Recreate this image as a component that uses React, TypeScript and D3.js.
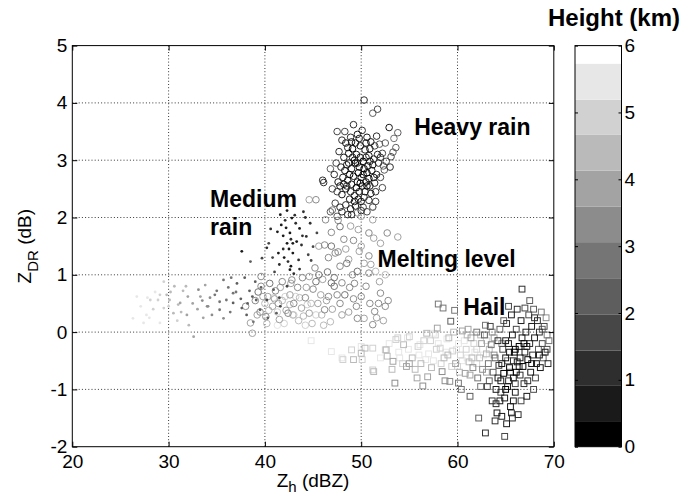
import { useEffect, useRef } from "react";
import { select, scaleLinear, scaleThreshold, axisBottom, axisLeft, axisTop, axisRight } from "d3";

// [Zh (dBZ), ZDR (dB), height (km)]
type Obs = [number, number, number];

const heavyRain: Obs[] = [
  [50.3, 4.05, 1.2], [51.7, 3.89, 1.8], [51.2, 3.82, 2.2], [49.2, 3.62, 1.0], [52.9, 3.57, 0.9], [53.8, 3.48, 2.4],
  [53.4, 3.38, 2.6], [53.6, 3.22, 2.2], [53.3, 3.14, 2.0], [53.1, 3.06, 1.6], [53.0, 2.88, 1.3], [52.4, 2.83, 2.3],
  [48.0, 3.35, 1.4], [48.4, 3.3, 0.8], [48.9, 3.4, 1.1], [49.6, 3.45, 0.6], [50.1, 3.52, 1.3], [50.6, 3.4, 0.4],
  [51.0, 3.32, 0.9], [51.4, 3.25, 1.7], [51.9, 3.28, 2.1], [52.2, 3.12, 1.5], [47.7, 3.15, 1.2], [48.2, 3.05, 0.6],
  [48.7, 3.12, 0.9], [49.1, 3.2, 0.3], [49.5, 3.1, 0.7], [49.9, 3.25, 0.5], [50.4, 3.18, 0.8], [50.8, 3.08, 0.4],
  [51.3, 3.02, 1.0], [51.8, 2.95, 1.4], [52.3, 2.9, 2.0], [47.4, 2.95, 1.8], [47.9, 2.88, 1.0], [48.5, 2.92, 0.7],
  [49.0, 2.85, 0.5], [49.4, 2.95, 0.2], [49.8, 2.88, 0.6], [50.2, 2.98, 0.3], [50.7, 2.9, 0.8], [51.1, 2.82, 0.5],
  [51.6, 2.75, 1.2], [52.0, 2.7, 1.9], [47.2, 2.75, 1.3], [47.6, 2.62, 0.9], [48.1, 2.7, 0.5], [48.6, 2.65, 0.9],
  [49.2, 2.72, 0.4], [49.6, 2.62, 0.7], [50.0, 2.7, 0.4], [50.5, 2.62, 0.6], [50.9, 2.55, 0.9], [51.4, 2.6, 1.1],
  [52.2, 2.52, 1.6], [46.0, 2.65, 1.4], [46.1, 2.61, 1.2], [47.5, 2.45, 1.5], [48.0, 2.4, 0.8], [48.4, 2.5, 0.6],
  [48.9, 2.45, 1.0], [49.3, 2.38, 0.5], [49.8, 2.45, 0.8], [50.3, 2.35, 1.0], [50.8, 2.3, 1.3], [51.5, 2.28, 1.7],
  [47.3, 2.25, 1.6], [47.8, 2.18, 1.2], [48.4, 2.22, 1.0], [48.9, 2.15, 0.7], [49.4, 2.2, 0.9], [50.0, 2.12, 1.2],
  [50.6, 2.1, 1.8], [51.2, 2.18, 2.1], [46.8, 2.1, 2.4], [47.5, 2.02, 2.0], [48.6, 2.05, 1.4], [49.7, 2.32, 0.6],
  [50.6, 2.78, 0.3], [49.0, 2.58, 0.4], [48.3, 2.82, 0.9], [49.3, 3.0, 0.4], [50.1, 2.55, 0.5], [50.9, 2.98, 0.7],
  [49.7, 2.78, 0.2], [48.8, 2.32, 0.8], [50.4, 2.45, 0.9], [51.7, 3.1, 1.2], [49.0, 3.32, 0.9], [50.5, 3.3, 0.5],
  [48.7, 2.95, 0.4], [49.1, 3.05, 0.8], [49.5, 2.52, 0.3], [49.9, 3.05, 0.9], [50.2, 2.75, 0.6], [50.5, 3.05, 1.0],
  [50.8, 2.68, 0.3], [51.2, 2.92, 0.6], [48.5, 2.55, 1.2], [48.2, 2.58, 0.9], [49.3, 2.28, 0.6], [50.0, 2.28, 0.5],
  [50.6, 2.55, 0.2], [51.0, 2.42, 0.8], [47.8, 2.55, 0.7], [48.8, 2.75, 0.3], [49.6, 2.95, 1.1], [50.3, 2.85, 0.2],
  [50.9, 3.2, 0.9], [49.4, 3.3, 0.7], [48.6, 3.22, 1.0], [51.5, 2.45, 1.4], [52.6, 2.98, 1.8], [52.0, 3.05, 1.0],
  [47.0, 2.5, 1.9], [46.8, 2.85, 2.2], [47.5, 3.5, 1.9], [48.3, 3.5, 1.6], [49.8, 3.38, 0.8], [51.6, 3.42, 1.4],
  [52.5, 3.3, 2.5], [50.2, 2.18, 1.5], [49.0, 2.05, 1.0], [48.0, 2.1, 1.4], [49.9, 2.6, 0.3], [51.3, 2.7, 0.5],
];

const meltingLevel: Obs[] = [
  [44.6, 2.31, 3.8], [45.3, 2.31, 3.5], [46.3, 1.96, 3.2], [47.0, 2.13, 2.8], [47.8, 1.84, 3.0], [46.9, 1.74, 3.3],
  [45.6, 1.5, 3.6], [46.2, 1.52, 3.1], [46.9, 1.5, 2.9], [47.3, 1.38, 3.4], [47.8, 1.15, 3.2], [48.5, 1.2, 2.9],
  [48.7, 1.27, 3.6], [49.1, 1.0, 3.3], [49.6, 1.06, 3.0], [49.8, 1.41, 3.7], [50.0, 1.5, 3.9], [50.8, 1.73, 3.5],
  [51.3, 1.64, 3.8], [52.7, 1.73, 3.4], [53.8, 1.66, 3.6], [52.0, 1.55, 4.0], [50.8, 1.33, 3.2], [51.0, 1.18, 3.9],
  [50.8, 1.03, 3.3], [51.5, 1.06, 4.2], [50.0, 2.02, 3.8], [49.6, 2.08, 3.4], [49.7, 1.79, 4.1], [51.2, 1.96, 4.0],
  [51.2, 2.19, 3.7], [48.2, 1.62, 3.5], [47.6, 1.95, 3.1], [46.5, 1.05, 3.0], [46.0, 0.92, 3.6], [45.2, 1.12, 3.3],
  [47.2, 0.95, 2.8], [48.0, 0.86, 3.2], [46.9, 0.86, 3.0], [44.6, 0.97, 3.8], [42.8, 0.91, 3.4], [39.6, 0.97, 3.3],
  [39.6, 0.8, 3.1], [38.0, 0.45, 3.2], [38.5, 0.16, 3.6], [38.7, -0.02, 4.0], [39.0, 0.55, 3.3], [39.5, 0.35, 3.5],
  [40.1, 0.27, 3.2], [40.3, 0.62, 3.6], [40.8, 0.45, 4.0], [41.1, 0.72, 3.3], [41.5, 0.22, 3.7], [41.8, 0.55, 4.3],
  [42.2, 0.38, 3.8], [42.4, 0.33, 3.2], [42.6, 0.65, 4.1], [43.0, 0.5, 3.5], [43.4, 0.78, 3.3], [43.8, 0.42, 3.9],
  [44.2, 0.6, 3.4], [44.6, 0.33, 3.7], [45.0, 0.75, 3.2], [45.5, 0.5, 3.8], [45.9, 0.3, 4.2], [46.2, 0.39, 3.4],
  [46.6, 0.62, 3.1], [47.2, 0.8, 3.0], [47.8, 0.5, 3.3], [48.3, 0.65, 3.0], [48.7, 0.35, 3.7], [49.2, 0.58, 3.2],
  [49.6, 0.24, 3.5], [50.0, 0.62, 3.1], [50.3, 0.24, 3.6], [50.9, 0.5, 3.2], [51.2, 0.13, 3.4], [51.4, 0.36, 3.3],
  [51.8, 0.5, 3.1], [52.0, 0.68, 3.4], [52.5, 0.45, 3.5], [40.5, 0.85, 3.0], [41.8, 0.88, 3.2], [43.5, 0.2, 4.4],
  [44.9, 0.15, 4.2], [46.8, 0.18, 4.4], [42.0, 0.15, 4.8], [40.0, 0.5, 4.6], [41.3, 0.35, 4.9], [43.2, 0.62, 5.0],
  [44.0, 0.28, 4.6], [39.3, 0.7, 2.9], [45.3, 0.88, 3.0], [41.0, 0.58, 3.9], [42.9, 0.3, 4.5], [44.4, 0.48, 4.8],
  [39.8, 0.62, 3.8], [40.4, 0.38, 4.3], [40.9, 0.6, 4.7], [41.4, 0.5, 3.8], [41.6, 0.78, 3.6], [42.1, 0.62, 5.1],
  [42.6, 0.48, 4.2], [43.0, 0.3, 4.9], [43.6, 0.6, 4.4], [44.3, 0.78, 3.7], [44.8, 0.5, 4.3], [45.3, 0.3, 4.7],
  [45.8, 0.65, 4.0], [46.4, 0.55, 3.6], [47.0, 0.4, 4.0], [47.5, 0.65, 3.3], [48.0, 0.3, 3.9], [48.8, 0.78, 3.1],
  [49.5, 0.45, 3.4], [50.5, 0.8, 3.3], [51.6, 0.25, 3.8], [52.8, 0.55, 3.5], [52.3, 0.2, 4.1], [40.2, 0.15, 4.4],
  [39.2, 0.3, 3.8], [43.9, 0.95, 3.1], [45.6, 1.0, 2.9], [47.6, 1.4, 3.3], [48.4, 1.45, 3.8], [49.2, 1.6, 3.1],
  [48.9, 1.85, 3.6], [46.6, 1.3, 3.4], [50.3, 1.2, 4.0], [49.3, 0.85, 3.5], [52.5, 1.0, 4.2], [51.9, 0.88, 3.8],
  [41.3, 0.12, 5.2], [42.7, 0.85, 3.7], [44.2, 0.12, 5.0], [46.1, 0.12, 4.6],
];

const mediumRain: Obs[] = [
  [41.6, 2.05, 0.9], [44.0, 2.1, 1.2], [41.7, 1.87, 0.7], [42.6, 1.73, 0.5], [43.6, 1.81, 0.8], [44.7, 1.9, 1.3],
  [42.3, 1.55, 0.6], [43.3, 1.58, 0.9], [44.3, 1.67, 1.1], [45.0, 1.49, 1.5], [37.6, 1.41, 0.8], [40.2, 1.47, 1.2],
  [41.4, 1.38, 0.7], [42.4, 1.23, 1.0], [43.5, 1.26, 1.4], [42.6, 1.09, 0.8], [40.4, 1.55, 1.6], [39.7, 1.29, 1.8],
  [38.5, 1.23, 2.0], [42.9, 1.38, 0.6], [42.8, 1.99, 0.8], [45.4, 1.73, 1.7], [42.1, 1.95, 1.0], [43.1, 2.04, 1.1],
  [42.5, 1.45, 0.4], [43.8, 1.52, 1.0], [41.9, 1.68, 0.8], [42.7, 1.62, 1.2], [44.5, 1.35, 1.5], [41.0, 1.05, 1.7],
  [35.7, 0.91, 2.6], [37.1, 0.85, 2.4], [34.8, 0.65, 3.0], [36.0, 0.56, 2.7], [34.1, 0.45, 3.2], [35.3, 0.39, 2.9],
  [36.7, 0.51, 2.5], [38.1, 0.3, 2.2], [39.1, 0.56, 2.4], [33.1, 0.74, 3.4], [32.0, 0.62, 3.8], [31.2, 0.51, 4.0],
  [30.1, 0.56, 4.4], [29.1, 0.65, 4.7], [28.1, 0.56, 5.0], [26.7, 0.62, 5.4], [26.3, 0.24, 5.6], [27.4, 0.16, 5.3],
  [29.5, 0.88, 4.9], [30.5, 0.33, 4.6], [32.6, -0.08, 3.6], [40.2, 0.56, 1.8], [40.9, 0.74, 2.0], [41.6, 0.45, 1.6],
  [42.3, 0.8, 1.9], [39.5, 0.39, 2.3], [41.2, 0.33, 2.1], [27.7, 0.3, 5.5], [29.1, 0.16, 5.2], [28.9, 0.56, 4.8],
  [29.8, 0.65, 4.5], [29.5, 0.42, 4.9], [31.0, 0.48, 4.3], [31.9, 0.3, 4.1], [32.1, 0.12, 4.4], [33.3, 0.62, 3.7],
  [34.0, 0.45, 3.3], [34.5, 0.3, 3.5], [35.7, 0.24, 3.1], [35.3, 0.53, 2.8], [36.7, 0.68, 2.6], [37.6, 0.42, 2.3],
  [38.4, 0.72, 2.5], [37.9, 0.95, 2.2], [36.2, 0.78, 2.9], [33.8, 0.82, 3.6], [31.5, 0.72, 4.2], [30.6, 0.8, 4.5],
  [28.4, 0.4, 5.1], [27.1, 0.45, 5.7], [30.9, 0.2, 4.7], [33.6, 0.25, 3.9], [39.0, 0.88, 2.1], [38.8, 0.18, 2.7],
  [41.3, 1.75, 0.9], [41.9, 1.45, 1.1], [42.2, 1.82, 0.5], [42.9, 1.55, 0.7], [43.2, 1.9, 1.0], [43.9, 1.68, 1.3],
  [44.2, 2.0, 1.1], [42.0, 1.3, 0.8], [42.7, 1.15, 0.9], [43.0, 1.02, 1.2], [41.5, 1.18, 1.4], [40.8, 1.3, 1.5],
  [43.6, 1.1, 1.4], [44.8, 1.25, 1.6], [42.3, 2.12, 0.9], [40.6, 1.8, 1.3], [37.0, 0.7, 2.6], [37.5, 0.58, 2.4],
  [38.2, 0.5, 2.3], [36.4, 0.35, 2.8], [35.0, 0.72, 3.0], [34.3, 0.6, 3.3], [33.0, 0.4, 3.6], [32.5, 0.5, 3.9],
  [31.3, 0.35, 4.3], [30.2, 0.7, 4.6], [28.6, 0.7, 5.2], [27.8, 0.6, 5.5], [26.9, 0.8, 5.8], [28.0, 0.25, 5.6],
  [30.0, 0.45, 5.0], [31.8, 0.8, 4.4], [33.5, 0.55, 3.5], [36.5, 0.95, 2.7], [38.7, 0.62, 2.2], [39.6, 0.78, 2.0],
  [41.5, 0.6, 1.7], [40.3, 0.25, 2.3],
];

const hail: Obs[] = [
  [44.8, -0.15, 5.6], [46.9, -0.34, 5.5], [48.0, -0.45, 5.2], [48.2, -0.8, 5.8], [48.1, -0.48, 5.0], [49.0, -0.31, 4.9],
  [49.2, -0.48, 4.6], [50.0, -0.25, 5.3], [50.0, -0.37, 4.4], [50.1, -0.48, 4.8], [50.4, -0.28, 4.5], [51.2, -0.66, 5.1],
  [51.2, -0.28, 4.7], [51.3, -0.69, 4.3], [52.5, -0.31, 5.0], [52.6, -0.31, 4.2], [52.7, -0.42, 4.6], [53.5, -0.89, 3.4],
  [53.6, -0.13, 4.8], [53.3, -0.51, 4.1], [53.9, -0.35, 5.2], [54.4, -0.22, 4.5], [54.7, -0.6, 3.9], [54.8, -0.1, 5.4],
  [55.0, -0.08, 4.9], [55.3, -0.45, 4.3], [55.8, -0.8, 4.0], [55.9, -0.25, 5.0], [56.2, -0.55, 4.6], [56.4, -0.94, 3.2],
  [56.5, -0.15, 4.7], [56.8, -0.02, 4.4], [57.0, -0.38, 5.3], [57.3, -0.62, 4.2], [57.7, -0.05, 5.1], [57.9, 0.07, 3.6],
  [58.0, 0.49, 2.6], [58.5, 0.42, 2.9], [58.2, -0.28, 4.8], [58.4, -0.69, 3.1], [58.6, -0.45, 4.5], [58.9, -0.12, 5.5],
  [59.2, -0.86, 3.4], [59.3, 0.19, 2.2], [59.5, -0.33, 4.9], [59.7, 0.38, 3.0], [59.8, -0.55, 4.0], [60.1, -0.89, 2.8],
  [60.1, -0.2, 5.2], [60.3, -0.4, 4.7], [60.5, 0.02, 3.9], [60.8, -0.72, 3.6], [60.9, -0.3, 5.0], [61.2, -0.52, 4.4],
  [61.3, -1.12, 2.4], [61.4, -0.1, 4.1], [61.6, -0.62, 3.3], [61.8, -0.35, 5.3], [62.0, 0.0, 3.0], [62.1, -0.8, 2.9],
  [62.2, -1.5, 2.0], [62.3, -0.45, 4.6], [62.5, -0.2, 3.8], [62.6, -0.65, 3.5], [62.9, -1.76, 1.2], [62.8, -0.05, 2.5],
  [63.0, -0.38, 4.2], [63.1, -0.95, 1.8], [63.2, -0.55, 3.0], [63.4, 0.1, 1.6], [63.5, -0.22, 2.7], [63.6, -1.2, 1.3],
  [63.7, -0.7, 2.2], [63.8, -0.4, 3.5], [60.0, -0.6, 4.8], [61.0, -0.05, 4.3], [62.0, -0.3, 5.0], [63.0, -0.15, 4.9],
  [63.9, -0.45, 2.5], [64.6, -0.2, 3.2], [65.2, -0.5, 2.6], [61.5, -0.45, 4.6], [60.5, -0.5, 5.3], [59.0, -0.4, 4.3],
  [57.8, -0.3, 5.0], [56.0, -0.4, 5.5], [55.0, -0.55, 4.1], [54.0, -0.45, 5.7], [62.4, -0.95, 2.7], [63.3, -0.85, 2.0],
  [64.0, -1.25, 1.0], [63.8, -0.1, 3.9], [65.5, -0.7, 2.1], [66.0, -0.9, 1.8], [64.5, -1.05, 1.6],
  [52.0, -0.45, 5.3], [52.9, -0.2, 5.6], [53.2, -0.65, 4.4], [53.8, -0.1, 5.1], [54.3, -0.55, 4.8], [54.9, -0.3, 5.5],
  [55.4, -0.15, 5.8], [55.6, -0.65, 4.5], [56.1, -0.22, 5.2], [56.7, -0.48, 5.6], [57.2, -0.15, 4.9], [57.5, -0.5, 5.4],
  [58.0, -0.2, 5.7], [58.3, -0.55, 4.7], [58.8, -0.35, 5.2], [59.1, -0.1, 4.6], [59.4, -0.6, 5.0], [59.9, -0.3, 5.6],
  [60.2, -0.7, 4.2], [60.7, -0.15, 5.4], [61.0, -0.45, 5.7], [61.3, -0.75, 3.8], [61.7, -0.2, 4.8], [62.0, -0.55, 5.1],
  [62.4, -0.05, 4.3], [62.7, -0.4, 5.4], [63.0, -0.7, 3.6], [63.3, -0.3, 4.5], [63.6, 0.0, 3.2], [57.5, -0.02, 5.3],
  [59.6, 0.0, 4.4], [61.1, 0.05, 3.7], [62.9, 0.12, 2.8], [58.7, -0.85, 3.5], [60.4, -1.0, 2.9], [56.9, -0.78, 3.9],
  [64.0, -1.0, 0.8], [64.1, -1.41, 0.6], [64.2, -0.15, 1.4], [64.3, -0.58, 1.0], [64.4, 0.05, 2.0], [64.5, -0.85, 0.5],
  [64.6, -1.47, 0.9], [64.7, -0.3, 1.7], [64.8, -0.72, 0.3], [64.9, -1.82, 1.5], [64.9, -1.15, 0.7], [65.0, -0.45, 0.4],
  [65.1, 0.15, 1.2], [65.2, -0.95, 0.9], [65.3, -0.2, 0.6], [65.4, -0.62, 0.2], [65.5, -1.3, 0.8], [65.6, -1.41, 1.1],
  [65.6, 0.3, 0.5], [65.7, -0.05, 0.9], [65.8, -0.8, 0.4], [65.9, -0.35, 0.1], [66.0, -1.05, 0.6], [66.1, 0.05, 1.6],
  [66.2, -0.52, 0.7], [66.3, -1.44, 1.3], [66.4, -0.25, 0.3], [66.5, -0.75, 1.0], [66.6, 0.2, 0.8], [66.7, 0.75, 1.1],
  [66.7, -0.1, 0.5], [66.8, -0.6, 0.2], [66.9, -0.9, 1.4], [67.0, 0.42, 1.9], [67.0, -0.35, 0.6], [67.1, 0.0, 0.9],
  [67.2, -1.12, 0.7], [67.3, -0.48, 0.3], [67.4, 0.3, 1.5], [67.5, -0.2, 1.1], [67.6, -0.7, 0.4], [67.7, 0.1, 0.7],
  [67.8, -0.4, 1.3], [67.9, 0.4, 2.1], [68.0, -0.1, 0.5], [68.1, -0.8, 1.7], [68.2, -0.55, 0.8], [68.3, 0.2, 1.0],
  [68.4, -0.3, 2.4], [68.5, 0.0, 1.2], [68.6, -0.62, 0.6], [68.7, 0.35, 2.8], [68.8, -0.2, 1.5], [68.9, -0.45, 2.2],
  [69.0, 0.1, 1.8], [69.1, -0.35, 0.9], [69.2, 0.25, 3.2], [69.3, -0.05, 2.6], [69.4, -0.55, 1.4], [69.5, -0.15, 3.0],
  [65.0, -0.15, 0.7], [65.8, -0.5, 1.2], [66.4, -0.6, 0.4], [67.2, -0.25, 0.8], [66.0, -0.3, 0.3], [65.3, -0.85, 1.1],
  [64.2, -0.8, 0.9], [64.6, -0.55, 0.5], [65.0, -1.0, 0.2], [65.4, -0.35, 0.4], [65.8, -1.2, 0.7], [66.1, -0.7, 0.2],
  [66.5, -0.45, 0.6], [66.9, -0.2, 0.3], [67.3, -0.85, 1.0], [67.7, -0.55, 0.6], [68.0, 0.25, 1.3], [68.5, -0.4, 0.9],
  [68.8, 0.05, 2.0], [69.3, -0.3, 1.6], [67.5, 0.55, 2.3], [66.2, 0.4, 1.4], [65.3, 0.45, 1.7], [64.8, 0.2, 2.4],
  [63.9, -1.55, 1.1], [65.1, -1.6, 0.9], [66.6, -1.2, 1.6], [64.4, -1.2, 0.6], [65.7, -1.5, 1.2], [67.9, -1.0, 1.9],
];

const xTicks = [20, 30, 40, 50, 60, 70];
const yTicks = [-2, -1, 0, 1, 2, 3, 4, 5];
const heightTicks = [0, 1, 2, 3, 4, 5, 6];
// colour band edges of the height colorbar (km)
const heightBreaks = [0.37, 0.91, 1.44, 1.98, 2.52, 3.06, 3.59, 4.13, 4.67, 5.19, 5.73];
const grays = ["#000000", "#1a1a1a", "#2e2e2e", "#474747", "#5e5e5e", "#757575",
  "#8c8c8c", "#a3a3a3", "#bababa", "#d1d1d1", "#e7e7e7", "#ffffff"];

const FONT = "Arial, 'Liberation Sans', Helvetica, sans-serif";

const App = () => {
  const svgRef = useRef<SVGSVGElement>(null);

  useEffect(() => {
    const svg = select(svgRef.current);
    svg.selectAll("*").remove();

    const left = 72.3, right = 553.8, top = 45.6, bottom = 446.7;
    const xScale = scaleLinear().domain([20, 70]).range([left, right]);
    const yScale = scaleLinear().domain([-2, 5]).range([bottom, top]);
    const color = scaleThreshold<number, string>().domain(heightBreaks).range(grays);
    const fmt = (d: any) => String(d);

    // grid
    const grid = svg.append("g").attr("stroke", "#222").attr("stroke-dasharray", "1,2.2").attr("stroke-width", 0.9);
    grid.selectAll(".gx").data(xTicks.slice(1, -1)).join("line")
      .attr("x1", d => xScale(d)).attr("x2", d => xScale(d)).attr("y1", top).attr("y2", bottom);
    grid.selectAll(".gy").data(yTicks.slice(1, -1)).join("line")
      .attr("y1", d => yScale(d)).attr("y2", d => yScale(d)).attr("x1", left).attr("x2", right);

    const byHeight = (a: Obs, b: Obs) => b[2] - a[2];

    // melting level (circles)
    svg.append("g").selectAll("circle").data([...meltingLevel].sort(byHeight)).join("circle")
      .attr("cx", d => xScale(d[0])).attr("cy", d => yScale(d[1])).attr("r", 3.3)
      .attr("fill", "none").attr("stroke", d => color(d[2])).attr("stroke-width", 1);

    // medium rain (dots)
    svg.append("g").selectAll("circle").data([...mediumRain].sort(byHeight)).join("circle")
      .attr("cx", d => xScale(d[0])).attr("cy", d => yScale(d[1])).attr("r", 1.4)
      .attr("fill", d => color(d[2]));

    // heavy rain (circles)
    svg.append("g").selectAll("circle").data([...heavyRain].sort(byHeight)).join("circle")
      .attr("cx", d => xScale(d[0])).attr("cy", d => yScale(d[1])).attr("r", 3.3)
      .attr("fill", "none").attr("stroke", d => color(d[2])).attr("stroke-width", 1);

    // hail (squares)
    svg.append("g").selectAll("rect").data([...hail].sort(byHeight)).join("rect")
      .attr("x", d => xScale(d[0]) - 2.9).attr("y", d => yScale(d[1]) - 2.9)
      .attr("width", 5.8).attr("height", 5.8)
      .attr("fill", "none").attr("stroke", d => color(d[2])).attr("stroke-width", 1);

    // axes
    const styleAxis = (g: any) => {
      g.select(".domain").remove();
      g.selectAll("line").attr("stroke", "#000");
      g.selectAll("text").attr("font-family", FONT).attr("font-size", 19).attr("fill", "#000");
    };
    svg.append("g").attr("transform", `translate(0,${bottom})`)
      .call(axisBottom(xScale).tickValues(xTicks).tickFormat(fmt).tickSizeInner(-5).tickSizeOuter(0).tickPadding(8))
      .call(styleAxis);
    svg.append("g").attr("transform", `translate(${left},0)`)
      .call(axisLeft(yScale).tickValues(yTicks).tickFormat(fmt).tickSizeInner(-5).tickSizeOuter(0).tickPadding(5))
      .call(styleAxis);
    svg.append("g").attr("transform", `translate(0,${top})`)
      .call(axisTop(xScale).tickValues(xTicks).tickSizeInner(-5).tickSizeOuter(0).tickFormat(() => ""))
      .call(styleAxis);
    svg.append("g").attr("transform", `translate(${right},0)`)
      .call(axisRight(yScale).tickValues(yTicks).tickSizeInner(-5).tickSizeOuter(0).tickFormat(() => ""))
      .call(styleAxis);
    svg.append("rect").attr("x", left).attr("y", top).attr("width", right - left).attr("height", bottom - top)
      .attr("fill", "none").attr("stroke", "#000").attr("stroke-width", 1);

    // annotations
    const note = (t: string, x: number, y: number) =>
      svg.append("text").attr("x", xScale(x)).attr("y", yScale(y)).text(t)
        .attr("font-family", FONT).attr("font-weight", "bold").attr("font-size", 23).attr("fill", "#000");
    note("Heavy rain", 55.5, 3.44);
    note("Medium", 34.3, 2.19);
    note("rain", 34.3, 1.7);
    note("Melting level", 51.7, 1.14);
    note("Hail", 60.6, 0.3);

    // axis titles
    const xl = svg.append("text").attr("x", xScale(45)).attr("y", 487).attr("text-anchor", "middle")
      .attr("font-family", FONT).attr("font-size", 19).attr("fill", "#000");
    xl.append("tspan").text("Z");
    xl.append("tspan").attr("dy", 5).attr("font-size", 15).text("h");
    xl.append("tspan").attr("dy", -5).text(" (dBZ)");

    const yl = svg.append("text").attr("transform", `translate(30.5,${yScale(1.5)}) rotate(-90)`)
      .attr("text-anchor", "middle").attr("font-family", FONT).attr("font-size", 19).attr("fill", "#000");
    yl.append("tspan").text("Z");
    yl.append("tspan").attr("dy", 7).attr("font-size", 15).text("DR");
    yl.append("tspan").attr("dy", -7).text(" (dB)");

    // colorbar
    const cbLeft = 575, cbRight = 621.5;
    const hScale = scaleLinear().domain([0, 6]).range([bottom, top]);
    const edges = [0, ...heightBreaks, 6];
    svg.append("g").selectAll("rect").data(grays).join("rect")
      .attr("x", cbLeft).attr("width", cbRight - cbLeft)
      .attr("y", (_, i) => hScale(edges[i + 1]))
      .attr("height", (_, i) => hScale(edges[i]) - hScale(edges[i + 1]))
      .attr("fill", d => d);
    svg.append("g").attr("transform", `translate(${cbRight},0)`)
      .call(axisRight(hScale).tickValues(heightTicks).tickFormat(fmt).tickSizeInner(-3).tickSizeOuter(0).tickPadding(3))
      .call(styleAxis);
    svg.append("g").attr("transform", `translate(${cbLeft},0)`)
      .call(axisLeft(hScale).tickValues(heightTicks).tickSizeInner(-3).tickSizeOuter(0).tickFormat(() => ""))
      .call(styleAxis);
    svg.append("rect").attr("x", cbLeft).attr("y", top).attr("width", cbRight - cbLeft).attr("height", bottom - top)
      .attr("fill", "none").attr("stroke", "#000").attr("stroke-width", 1);
    svg.append("text").attr("x", 680).attr("y", 26).attr("text-anchor", "end").text("Height (km)")
      .attr("font-family", FONT).attr("font-weight", "bold").attr("font-size", 24).attr("fill", "#000");
  }, []);

  return (
    <svg ref={svgRef} width={682} height={495}
      style={{ position: "absolute", left: 0, top: 0, background: "#fff" }} />
  );
};

export default App;
